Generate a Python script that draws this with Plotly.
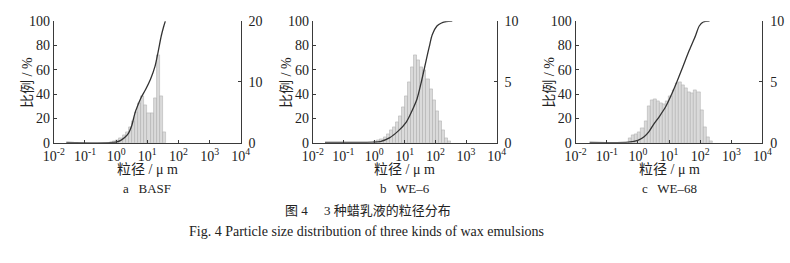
import plotly.graph_objects as go

# ---------------- data ----------------
# bar bin centres (log10 of particle size, µm) and frequency (% on left scale)
a_bin_log = [-0.15, -0.05, 0.05, 0.15, 0.25, 0.35, 0.45, 0.55, 0.65, 0.75,
             0.85, 0.95, 1.05, 1.15, 1.25, 1.35, 1.45, 1.55]
a_bar_pct = [0.5, 1.5, 2.5, 4, 6, 9, 13, 18, 25, 33,
             38, 31, 24, 24, 37, 72, 38, 9]

b_bin_log = [0.05, 0.15, 0.25, 0.35, 0.45, 0.55, 0.65, 0.75, 0.85, 0.95,
             1.05, 1.15, 1.25, 1.35, 1.45, 1.55, 1.65, 1.75, 1.85, 1.95,
             2.05, 2.15, 2.25, 2.35, 2.45]
b_bar_pct = [1, 2, 3, 5, 7, 10, 13, 17, 22, 29,
             38, 50, 62, 72, 68, 62, 60, 52, 44, 35,
             26, 18, 10, 4, 1]

c_bin_log = [-0.25, -0.15, -0.05, 0.05, 0.15, 0.25, 0.35, 0.45, 0.55, 0.65,
             0.75, 0.85, 0.95, 1.05, 1.15, 1.25, 1.35, 1.45, 1.55, 1.65,
             1.75, 1.85, 1.95, 2.05, 2.15, 2.25, 2.35]
c_bar_pct = [4, 6, 7, 9, 12, 18, 30, 35, 36, 34,
             33, 32, 34, 38, 43, 49, 50, 47, 45, 42,
             41, 43, 42, 27, 13, 5, 1]

# cumulative curves (log10 size, cumulative %)
a_cum_log = [-1.6, 0.0, 0.15, 0.3, 0.4, 0.5, 0.6, 0.7, 0.8, 0.95, 1.1, 1.25,
             1.35, 1.45, 1.52, 1.58]
a_cum_pct = [0.3, 0.5, 2, 5, 8, 14, 24, 31, 37, 44, 52, 63, 75, 88, 95, 100]

b_cum_log = [-1.6, 0.0, 0.2, 0.5, 0.8, 1.05, 1.25, 1.4, 1.55, 1.7, 1.8, 1.9,
             2.05, 2.2, 2.35, 2.55]
b_cum_pct = [0.3, 0.5, 1, 4, 10, 17, 27, 36, 51, 68, 79, 89, 96, 98.5, 99.7, 100]

c_cum_log = [-1.55, -0.3, 0.0, 0.2, 0.35, 0.5, 0.7, 0.9, 1.05, 1.25, 1.45, 1.65,
             1.85, 1.97, 2.1, 2.3]
c_cum_pct = [0.3, 0.5, 2, 5, 9, 15, 22, 30, 38, 50, 63, 76, 88, 96, 99.3, 100]

right_max = [20, 10, 10]
right_ticks = [[0, 10, 20], [0, 5, 10], [0, 5, 10]]
left_ticks = [0, 20, 40, 60, 80, 100]
x_tickvals = [-2, -1, 0, 1, 2, 3, 4]
x_ticktext = ["10<sup>-2</sup>", "10<sup>-1</sup>", "10<sup>0</sup>", "10<sup>1</sup>",
              "10<sup>2</sup>", "10<sup>3</sup>", "10<sup>4</sup>"]
sub_titles = ["a\u2002 BASF", "b\u2002 WE\u20136", "c\u2002 WE\u201368"]
x_title = "粒径 / μ m"
y_title = "比例 / %"
caption_cn = "图 4\u3000 3 种蜡乳液的粒径分布"
caption_en = "Fig. 4 Particle size distribution of three kinds of wax emulsions"

# ---------------- layout ----------------
W, H = 790, 263
FONT = "Liberation Serif, Times New Roman, Noto Sans CJK SC, serif"
AX = "#3a3a3a"
panels_px = [(44, 236), (310, 499), (580, 772)]
ytop_px, ybot_px = 15, 144
ydom = [1 - ybot_px / H, 1 - ytop_px / H]

fig = go.Figure()
bars = [(a_bin_log, a_bar_pct), (b_bin_log, b_bar_pct), (c_bin_log, c_bar_pct)]
cums = [(a_cum_log, a_cum_pct), (b_cum_log, b_cum_pct), (c_cum_log, c_cum_pct)]

layout = dict(width=W, height=H, margin=dict(l=0, r=0, t=0, b=0),
              paper_bgcolor="white", plot_bgcolor="rgba(0,0,0,0)",
              showlegend=False, font=dict(family=FONT, size=13, color="#222"),
              bargap=0)
annotations = []


def note(text, xpx, ypx, size, angle=0):
    return dict(text=text, x=xpx / W, y=1 - ypx / H, xref="paper", yref="paper",
                xanchor="center", yanchor="middle", showarrow=False, textangle=angle,
                font=dict(size=size, color="#222"))


for i in range(3):
    xn = "x" if i == 0 else f"x{i+1}"
    yb = "y" if i == 0 else f"y{2*i+1}"
    yo = f"y{2*i+2}"
    xkey = "xaxis" if i == 0 else f"xaxis{i+1}"
    ybkey = "yaxis" if i == 0 else f"yaxis{2*i+1}"
    yokey = f"yaxis{2*i+2}"
    x0, x1 = panels_px[i]
    xdom = [x0 / W, x1 / W]

    bx, bp = bars[i]
    scale = 100 / right_max[i]
    fig.add_trace(go.Bar(x=bx, y=[v / scale for v in bp], width=0.1,
                         xaxis=xn, yaxis=yb,
                         marker=dict(color="#dadada", line=dict(color="#a8a8a8", width=0.5))))
    cx, cp = cums[i]
    fig.add_trace(go.Scatter(x=cx, y=cp, mode="lines", xaxis=xn, yaxis=yo,
                             line=dict(color="#333333", width=1.3, shape="spline", smoothing=0.8)))

    common = dict(ticks="inside", ticklen=3, tickcolor=AX, showline=True, linecolor=AX,
                  linewidth=1, showgrid=False, zeroline=False,
                  tickfont=dict(size=14, color="#222"))
    layout[xkey] = dict(domain=xdom, anchor=yb, range=[-2, 4], tickvals=x_tickvals,
                        ticktext=x_ticktext, **common)
    layout[ybkey] = dict(domain=ydom, anchor=xn, side="right", range=[0, right_max[i]],
                         tickvals=right_ticks[i], ticklabelstandoff=4, **common)
    layout[yokey] = dict(domain=ydom, anchor=xn, overlaying=yb, side="left", range=[0, 100],
                         tickvals=left_ticks, **common)

    cxp = (x0 + x1) / 2
    annotations.append(note(x_title, cxp, 172, 14))
    annotations.append(note(sub_titles[i], cxp, 193, 13))
    annotations.append(note(y_title, x0 - 27, 80, 14, -90))

annotations.append(note(caption_cn, 367, 216, 13))
annotations.append(note(caption_en, 365, 238, 14))
layout["annotations"] = annotations
fig.update_layout(**layout)
fig.write_html("out.html")
